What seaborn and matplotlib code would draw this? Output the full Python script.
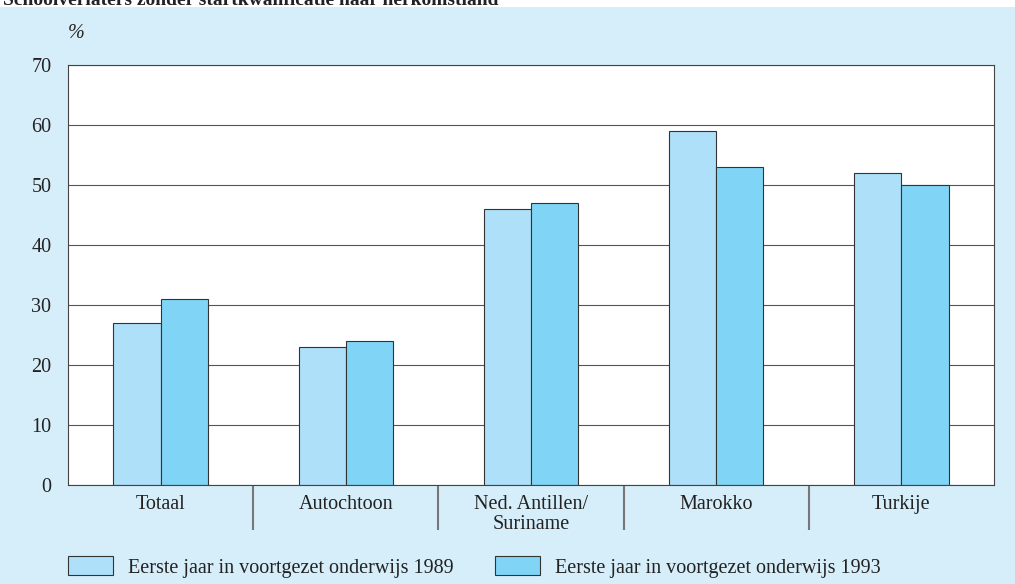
import numpy as np
import matplotlib
matplotlib.use("Agg")
import matplotlib.pyplot as plt
import seaborn as sns
import pandas as pd

categories = ["Totaal", "Autochtoon", "Ned. Antillen/\nSuriname", "Marokko", "Turkije"]
series_names = ["Eerste jaar in voortgezet onderwijs 1989",
                "Eerste jaar in voortgezet onderwijs 1993"]
values_1989 = [27, 23, 46, 59, 52]
values_1993 = [31, 24, 47, 53, 50]
y_ticks = [0, 10, 20, 30, 40, 50, 60, 70]
title_text = "Schoolverlaters zonder startkwalificatie naar herkomstland"

bg = "#d6eefa"
colors = ["#aee0fa", "#80d4f6"]
fs = 14.5

df = pd.DataFrame({
    "cat": categories * 2,
    "serie": [series_names[0]] * 5 + [series_names[1]] * 5,
    "pct": values_1989 + values_1993,
})

sns.set_style("white")
plt.rcParams["font.family"] = ["Liberation Serif", "DejaVu Serif"]

W, H = 1015, 584
fig = plt.figure(figsize=(W / 100, H / 100), dpi=100, facecolor="white")
# light blue panel below a thin white strip (title is cropped at the top, as in the source)
fig.patches.append(plt.Rectangle((0, 0), 1, 1 - 7 / H, transform=fig.transFigure,
                                 facecolor=bg, edgecolor="none", zorder=-10))
fig.text(0.003, 1 - 5 / H, title_text, fontsize=14, fontweight="bold",
         color="#222222", ha="left", va="baseline")

ax = fig.add_axes([68 / W, (H - 485) / H, (994 - 68) / W, (485 - 65) / H])
ax.set_facecolor("white")

sns.barplot(data=df, x="cat", y="pct", hue="serie", palette=colors,
            width=0.51, edgecolor="#333333", linewidth=0.8, ax=ax,
            saturation=1, legend=True)

ax.set_ylim(0, 70)
ax.set_xlim(-0.5, 4.5)
ax.set_yticks(y_ticks)
ax.set_xlabel("")
ax.set_ylabel("")
ax.set_axisbelow(True)
ax.yaxis.grid(True, color="#555555", linewidth=0.8)
for s in ax.spines.values():
    s.set_visible(True)
    s.set_color("#444444")
    s.set_linewidth(0.8)

ax.tick_params(axis="y", length=0, pad=12, labelsize=fs, labelcolor="#222222")
ax.tick_params(axis="x", which="major", length=0, pad=7, labelsize=fs, labelcolor="#222222")
for lab in ax.get_xticklabels():
    lab.set_linespacing(1.1)
ax.set_xticks([0.5, 1.5, 2.5, 3.5], minor=True)
ax.tick_params(axis="x", which="minor", bottom=True, length=32.5, width=1.5,
               color="#777777", direction="out")

ax.text(68 / W, (H - 33) / H, "%", transform=fig.transFigure, fontsize=fs,
        style="italic", ha="left", va="center", color="#222222")

handles, labels = ax.get_legend_handles_labels()
ax.get_legend().remove()
fig.legend(handles, labels, loc="center left", bbox_to_anchor=(58 / W, 1 - 567 / H),
           ncol=2, frameon=False, fontsize=fs, handlelength=2.24, handleheight=1.05,
           handletextpad=0.75, columnspacing=2.05, borderpad=0, labelcolor="#222222")

fig.savefig("out.png", dpi=100, facecolor="white")
